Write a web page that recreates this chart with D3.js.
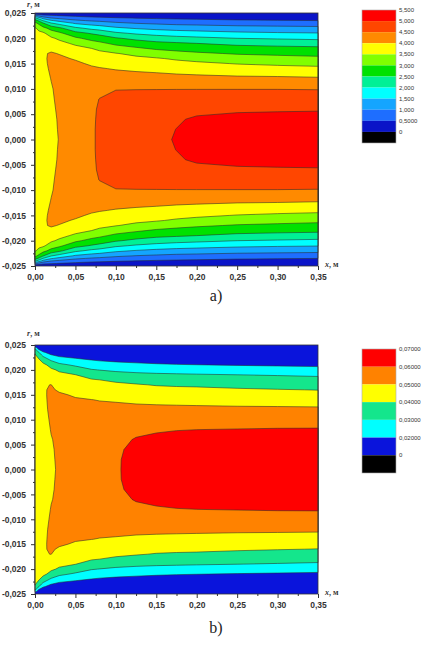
<!DOCTYPE html>
<html>
<head>
<meta charset="utf-8">
<script src="https://cdn.jsdelivr.net/npm/d3@7"></script>
<style>
body { margin: 0; background: #fff; }
svg { display: block; }
</style>
</head>
<body>
<svg id="chart" width="432" height="646"></svg>
<script>
if(!d3){
    throw new Error("d3 failed to load");
}

// grid columns along the channel, m
const xs = [0, 0.005, 0.01, 0.02, 0.03, 0.05, 0.07, 0.08, 0.1, 0.125, 0.15, 0.175, 0.2, 0.25, 0.3, 0.35];
// grid rows from the wall to the axis, m (field is symmetric in r, lower half is mirrored)
const rs = [0.025, 0.0245, 0.024, 0.0235, 0.023, 0.022, 0.021, 0.02, 0.019, 0.018, 0.017,
            0.016, 0.015, 0.014, 0.012, 0.01, 0.008, 0.006, 0.004, 0.002, 0];

// a) one profile per column, wall -> axis
const fieldA = [
    [0, 1.1, 2.12, 2.74, 3.13, 3.55, 3.65, 3.7, 3.72, 3.73, 3.73, 3.74, 3.74, 3.74, 3.75, 3.75, 3.75, 3.75, 3.75, 3.75, 3.75],
    [0, 0.83, 1.72, 2.4, 2.86, 3.37, 3.6, 3.72, 3.8, 3.84, 3.83, 3.82, 3.81, 3.8, 3.78, 3.77, 3.76, 3.76, 3.76, 3.76, 3.76],
    [0, 0.63, 1.32, 1.98, 2.52, 3.16, 3.58, 3.75, 3.9, 3.96, 3.95, 3.93, 3.91, 3.89, 3.86, 3.84, 3.82, 3.81, 3.8, 3.8, 3.8],
    [0, 0.54, 1.01, 1.55, 2.02, 2.82, 3.27, 3.57, 3.74, 3.9, 4.04, 4.08, 4.08, 4.06, 4.01, 3.97, 3.95, 3.94, 3.93, 3.93, 3.93],
    [0, 0.48, 0.9, 1.36, 1.8, 2.6, 3.1, 3.42, 3.63, 3.81, 3.98, 4.08, 4.12, 4.13, 4.12, 4.1, 4.08, 4.05, 4.03, 4.02, 4.01],
    [0, 0.38, 0.74, 1.08, 1.43, 2.11, 2.67, 3.09, 3.42, 3.63, 3.8, 3.96, 4.08, 4.16, 4.24, 4.28, 4.3, 4.31, 4.32, 4.32, 4.32],
    [0, 0.32, 0.63, 0.95, 1.27, 1.87, 2.45, 2.85, 3.19, 3.5, 3.65, 3.8, 3.94, 4.07, 4.25, 4.36, 4.41, 4.44, 4.45, 4.46, 4.46],
    [0, 0.3, 0.61, 0.91, 1.21, 1.79, 2.35, 2.76, 3.1, 3.41, 3.6, 3.74, 3.89, 4.03, 4.22, 4.38, 4.51, 4.54, 4.55, 4.55, 4.55],
    [0, 0.27, 0.54, 0.81, 1.08, 1.59, 2.09, 2.55, 2.89, 3.22, 3.52, 3.67, 3.82, 3.97, 4.22, 4.49, 4.57, 4.62, 4.65, 4.66, 4.66],
    [0, 0.25, 0.49, 0.74, 0.98, 1.46, 1.93, 2.38, 2.74, 3.07, 3.39, 3.6, 3.76, 3.92, 4.2, 4.49, 4.62, 4.7, 4.76, 4.79, 4.8],
    [0, 0.22, 0.45, 0.68, 0.92, 1.37, 1.82, 2.25, 2.62, 2.93, 3.25, 3.54, 3.71, 3.88, 4.18, 4.49, 4.64, 4.76, 4.85, 4.9, 4.92],
    [0, 0.21, 0.42, 0.64, 0.86, 1.31, 1.74, 2.17, 2.56, 2.85, 3.15, 3.44, 3.64, 3.82, 4.16, 4.49, 4.68, 4.84, 4.96, 5.005, 5.025],
    [0, 0.2, 0.4, 0.61, 0.84, 1.27, 1.69, 2.11, 2.5, 2.79, 3.07, 3.35, 3.59, 3.78, 4.14, 4.49, 4.7, 4.9, 5.05, 5.12, 5.15],
    [0, 0.18, 0.36, 0.55, 0.78, 1.2, 1.6, 2.0, 2.38, 2.69, 2.96, 3.22, 3.48, 3.7, 4.11, 4.49, 4.71, 4.93, 5.13, 5.26, 5.3],
    [0, 0.17, 0.35, 0.52, 0.75, 1.17, 1.55, 1.95, 2.33, 2.64, 2.91, 3.16, 3.42, 3.65, 4.1, 4.49, 4.71, 4.94, 5.17, 5.31, 5.36],
    [0, 0.17, 0.33, 0.5, 0.72, 1.14, 1.52, 1.9, 2.28, 2.61, 2.86, 3.11, 3.37, 3.61, 4.07, 4.48, 4.72, 4.95, 5.2, 5.35, 5.4]
];

// b) same grid
const fieldB = [
    [0, 0.0261, 0.0337, 0.0383, 0.0412, 0.0435, 0.0447, 0.0453, 0.0456, 0.0458, 0.0459, 0.046, 0.046, 0.046, 0.046, 0.046, 0.046, 0.046, 0.046, 0.046, 0.046],
    [0, 0.0106, 0.0211, 0.0302, 0.034, 0.0412, 0.0445, 0.0462, 0.0472, 0.0477, 0.0478, 0.0477, 0.0476, 0.0475, 0.0473, 0.0471, 0.047, 0.0469, 0.0468, 0.0467, 0.0467],
    [0, 0.0075, 0.0149, 0.0218, 0.0275, 0.0359, 0.0425, 0.0465, 0.049, 0.0497, 0.0496, 0.0494, 0.0492, 0.049, 0.0487, 0.0484, 0.0482, 0.048, 0.0479, 0.0478, 0.0478],
    [0, 0.0051, 0.0103, 0.0154, 0.0204, 0.0288, 0.0369, 0.0415, 0.0445, 0.0475, 0.0501, 0.0507, 0.051, 0.0511, 0.051, 0.0506, 0.0502, 0.0498, 0.0496, 0.0495, 0.0494],
    [0, 0.0044, 0.0088, 0.0131, 0.0175, 0.0251, 0.0321, 0.0388, 0.0419, 0.0443, 0.0468, 0.0493, 0.0507, 0.0512, 0.0514, 0.0513, 0.0511, 0.0509, 0.0507, 0.0506, 0.0505],
    [0, 0.0038, 0.0076, 0.0115, 0.0153, 0.0224, 0.0286, 0.0346, 0.0402, 0.0425, 0.0448, 0.0471, 0.0494, 0.0505, 0.0515, 0.0521, 0.0525, 0.0528, 0.0529, 0.053, 0.053],
    [0, 0.0033, 0.0066, 0.0099, 0.0132, 0.0199, 0.0253, 0.0306, 0.0361, 0.0407, 0.0431, 0.0455, 0.0478, 0.0501, 0.0521, 0.0535, 0.0544, 0.055, 0.0553, 0.0555, 0.0555],
    [0, 0.0032, 0.0063, 0.0095, 0.0127, 0.019, 0.0245, 0.0298, 0.0349, 0.04, 0.0424, 0.0448, 0.0473, 0.0497, 0.0522, 0.054, 0.0552, 0.0559, 0.0563, 0.0565, 0.0565],
    [0, 0.003, 0.006, 0.0089, 0.0119, 0.0179, 0.0233, 0.0283, 0.0334, 0.0385, 0.0416, 0.0441, 0.0466, 0.049, 0.053, 0.0558, 0.0575, 0.0588, 0.0594, 0.0596, 0.0596],
    [0, 0.0028, 0.0056, 0.0084, 0.0112, 0.0169, 0.0222, 0.0273, 0.0322, 0.0367, 0.0407, 0.0433, 0.0459, 0.0484, 0.0522, 0.0553, 0.059, 0.0603, 0.0609, 0.0611, 0.0612],
    [0, 0.0027, 0.0053, 0.008, 0.0106, 0.016, 0.0213, 0.0266, 0.0315, 0.0357, 0.0395, 0.0424, 0.0451, 0.0478, 0.0522, 0.0558, 0.0594, 0.0612, 0.0621, 0.0626, 0.0628],
    [0, 0.0026, 0.0051, 0.0077, 0.0103, 0.0154, 0.0206, 0.0259, 0.0312, 0.035, 0.039, 0.042, 0.0447, 0.0475, 0.0521, 0.0559, 0.0598, 0.0618, 0.0629, 0.0635, 0.0638],
    [0, 0.0025, 0.0051, 0.0076, 0.0101, 0.0152, 0.0202, 0.0255, 0.0308, 0.0348, 0.0387, 0.0418, 0.0445, 0.0472, 0.052, 0.056, 0.06, 0.0622, 0.0634, 0.0642, 0.0645],
    [0, 0.0024, 0.0049, 0.0073, 0.0098, 0.0147, 0.0195, 0.0248, 0.0301, 0.0339, 0.0377, 0.041, 0.044, 0.0467, 0.0518, 0.0561, 0.0603, 0.0628, 0.0642, 0.0651, 0.0655],
    [0, 0.0024, 0.0047, 0.0071, 0.0095, 0.0142, 0.0189, 0.0241, 0.0295, 0.0331, 0.0368, 0.0404, 0.0434, 0.0464, 0.0517, 0.0562, 0.0606, 0.0632, 0.0647, 0.0656, 0.066],
    [0, 0.0023, 0.0046, 0.0069, 0.0092, 0.0138, 0.0183, 0.0234, 0.0288, 0.0326, 0.0361, 0.0398, 0.0429, 0.046, 0.0516, 0.0562, 0.0607, 0.0635, 0.0651, 0.0661, 0.0665]
];

// contour levels, lowest first; colours are for [level, next level)
const levelsA = [0, 0.5, 1, 1.5, 2, 2.5, 3, 3.5, 4, 4.5, 5];
const colorsA = ["#0a14c8", "#1e6eff", "#14a5ff", "#00ffff", "#00f096", "#00e100",
                 "#80ff00", "#ffff00", "#ff8a00", "#ff4600", "#ff0000"];
const legendLabelsA = ["5,500", "5,000", "4,500", "4,000", "3,500", "3,000", "2,500",
                       "2,000", "1,500", "1,000", "0,5000", "0"];

const levelsB = [0, 0.02, 0.03, 0.04, 0.05, 0.06];
const colorsB = ["#0a14dc", "#00ffff", "#14e68c", "#ffff00", "#ff8200", "#ff0000"];
const legendLabelsB = ["0,07000", "0,06000", "0,05000", "0,04000", "0,03000", "0,02000", "0"];

const xTicks = [0, 0.05, 0.1, 0.15, 0.2, 0.25, 0.3, 0.35];
const xMinor = [0.025, 0.075, 0.125, 0.175, 0.225, 0.275, 0.325];
const yTicks = [0.025, 0.02, 0.015, 0.01, 0.005, 0, -0.005, -0.01, -0.015, -0.02, -0.025];
const yMinor = [0.0225, 0.0175, 0.0125, 0.0075, 0.0025, -0.0025, -0.0075, -0.0125, -0.0175, -0.0225];

const svg = d3.select("#chart");
const fmt = d3.formatLocale({decimal: ",", thousands: " ", grouping: [3], currency: ["", ""], minus: "-"}).format;

const panel = (cfg) => {
    const box = cfg.box;
    const nx = xs.length;
    const rowsR = rs.concat(rs.slice(0, -1).reverse().map(r => -r));
    const ny = rowsR.length;
    const last = rs.length - 1;
    const values = new Array(nx * ny);
    for(let j = 0; j < ny; j++){
        for(let i = 0; i < nx; i++){
            values[j * nx + i] = cfg.field[i][j <= last ? j : 2 * last - j];
        }
    }

    const x = d3.scaleLinear().domain([0, 0.35]).range([box.left, box.right]);
    const y = d3.scaleLinear().domain([-0.025, 0.025]).range([box.bottom, box.top]);
    // grid index -> physical coordinate
    const gx = d3.scaleLinear().domain(d3.range(nx)).range(xs).clamp(true);
    const gy = d3.scaleLinear().domain(d3.range(ny)).range(rowsR).clamp(true);
    const proj = d3.geoTransform({
        point: function(px, py){ this.stream.point(x(gx(px - 0.5)), y(gy(py - 0.5))); }
    });
    const path = d3.geoPath(proj);

    const g = svg.append("g");
    const bands = d3.contours().size([nx, ny]).thresholds(cfg.levels)(values);

    g.selectAll("path.band")
        .data(bands)
        .join("path")
        .attr("class", "band")
        .attr("d", path)
        .attr("fill", (d, i) => cfg.colors[i])
        .attr("fill-rule", "evenodd")
        .attr("stroke", (d, i) => i ? "#2a2a2a" : "none")
        .attr("stroke-width", 0.55);

    g.append("rect")
        .attr("x", box.left).attr("y", box.top)
        .attr("width", box.right - box.left).attr("height", box.bottom - box.top)
        .attr("fill", "none").attr("stroke", "#333").attr("stroke-width", 0.8);

    const tickStyle = (sel) => {
        sel.select(".domain").remove();
        sel.selectAll(".tick line").attr("stroke", "#333");
        sel.selectAll(".tick text")
            .attr("fill", "#333")
            .attr("font-family", "'Liberation Sans', Arial, sans-serif")
            .attr("font-weight", "bold")
            .attr("font-size", 8.5);
    };

    g.append("g").attr("transform", `translate(${box.left},0)`)
        .call(d3.axisLeft(y).tickValues(yTicks).tickSize(4).tickPadding(5).tickFormat(fmt(".3f")))
        .call(tickStyle);
    g.append("g").attr("transform", `translate(${box.left},0)`)
        .call(d3.axisLeft(y).tickValues(yMinor).tickSize(2).tickFormat(""))
        .call(tickStyle);
    g.append("g").attr("transform", `translate(0,${box.bottom})`)
        .call(d3.axisBottom(x).tickValues(xTicks).tickSize(4).tickPadding(4).tickFormat(fmt(".2f")))
        .call(tickStyle);
    g.append("g").attr("transform", `translate(0,${box.bottom})`)
        .call(d3.axisBottom(x).tickValues(xMinor).tickSize(2).tickFormat(""))
        .call(tickStyle);

    // axis titles
    const rt = g.append("text")
        .attr("x", box.left - 8).attr("y", Math.max(box.top - 9, 7))
        .attr("font-family", "'Liberation Serif', 'Times New Roman', serif")
        .attr("font-weight", "bold").attr("font-size", 8).attr("fill", "#333");
    rt.append("tspan").attr("font-style", "italic").text("r");
    rt.append("tspan").text(", м");

    const xt = g.append("text")
        .attr("x", box.right + 7).attr("y", box.bottom + 1)
        .attr("font-family", "'Liberation Serif', 'Times New Roman', serif")
        .attr("font-weight", "bold").attr("font-size", 8).attr("fill", "#333");
    xt.append("tspan").attr("font-style", "italic").text("x");
    xt.append("tspan").text(", м");

    g.append("text")
        .attr("x", 216).attr("y", cfg.captionY)
        .attr("text-anchor", "middle")
        .attr("font-family", "'Liberation Serif', 'Times New Roman', serif")
        .attr("font-size", 16).attr("fill", "#222")
        .text(cfg.caption);

    // colour scale bar, top band first
    const leg = cfg.legend;
    const legColors = cfg.colors.slice().reverse().concat(["#000000"]);
    const ly = d3.scaleLinear().domain([0, legColors.length]).range([leg.top, leg.bottom]);
    const lg = svg.append("g");
    lg.selectAll("rect")
        .data(legColors)
        .join("rect")
        .attr("x", leg.left).attr("width", leg.width)
        .attr("y", (d, i) => ly(i)).attr("height", (d, i) => ly(i + 1) - ly(i))
        .attr("fill", d => d);
    lg.append("rect")
        .attr("x", leg.left).attr("y", leg.top)
        .attr("width", leg.width).attr("height", leg.bottom - leg.top)
        .attr("fill", "none").attr("stroke", "#aaa").attr("stroke-width", 0.6);
    lg.selectAll("text")
        .data(cfg.legendLabels)
        .join("text")
        .attr("x", leg.left + leg.width + 3)
        .attr("y", (d, i) => ly(i))
        .attr("dy", "0.35em")
        .attr("font-family", "'Liberation Sans', Arial, sans-serif")
        .attr("font-size", 6)
        .attr("fill", "#333")
        .text(d => d);
};

panel({
    field: fieldA, levels: levelsA, colors: colorsA, legendLabels: legendLabelsA,
    box: {left: 35, right: 318, top: 13, bottom: 266},
    legend: {left: 362, width: 34, top: 10, bottom: 143},
    caption: "a)", captionY: 301
});

panel({
    field: fieldB, levels: levelsB, colors: colorsB, legendLabels: legendLabelsB,
    box: {left: 35, right: 318, top: 345, bottom: 594},
    legend: {left: 362, width: 34, top: 349, bottom: 473},
    caption: "b)", captionY: 633
});
</script>
</body>
</html>
